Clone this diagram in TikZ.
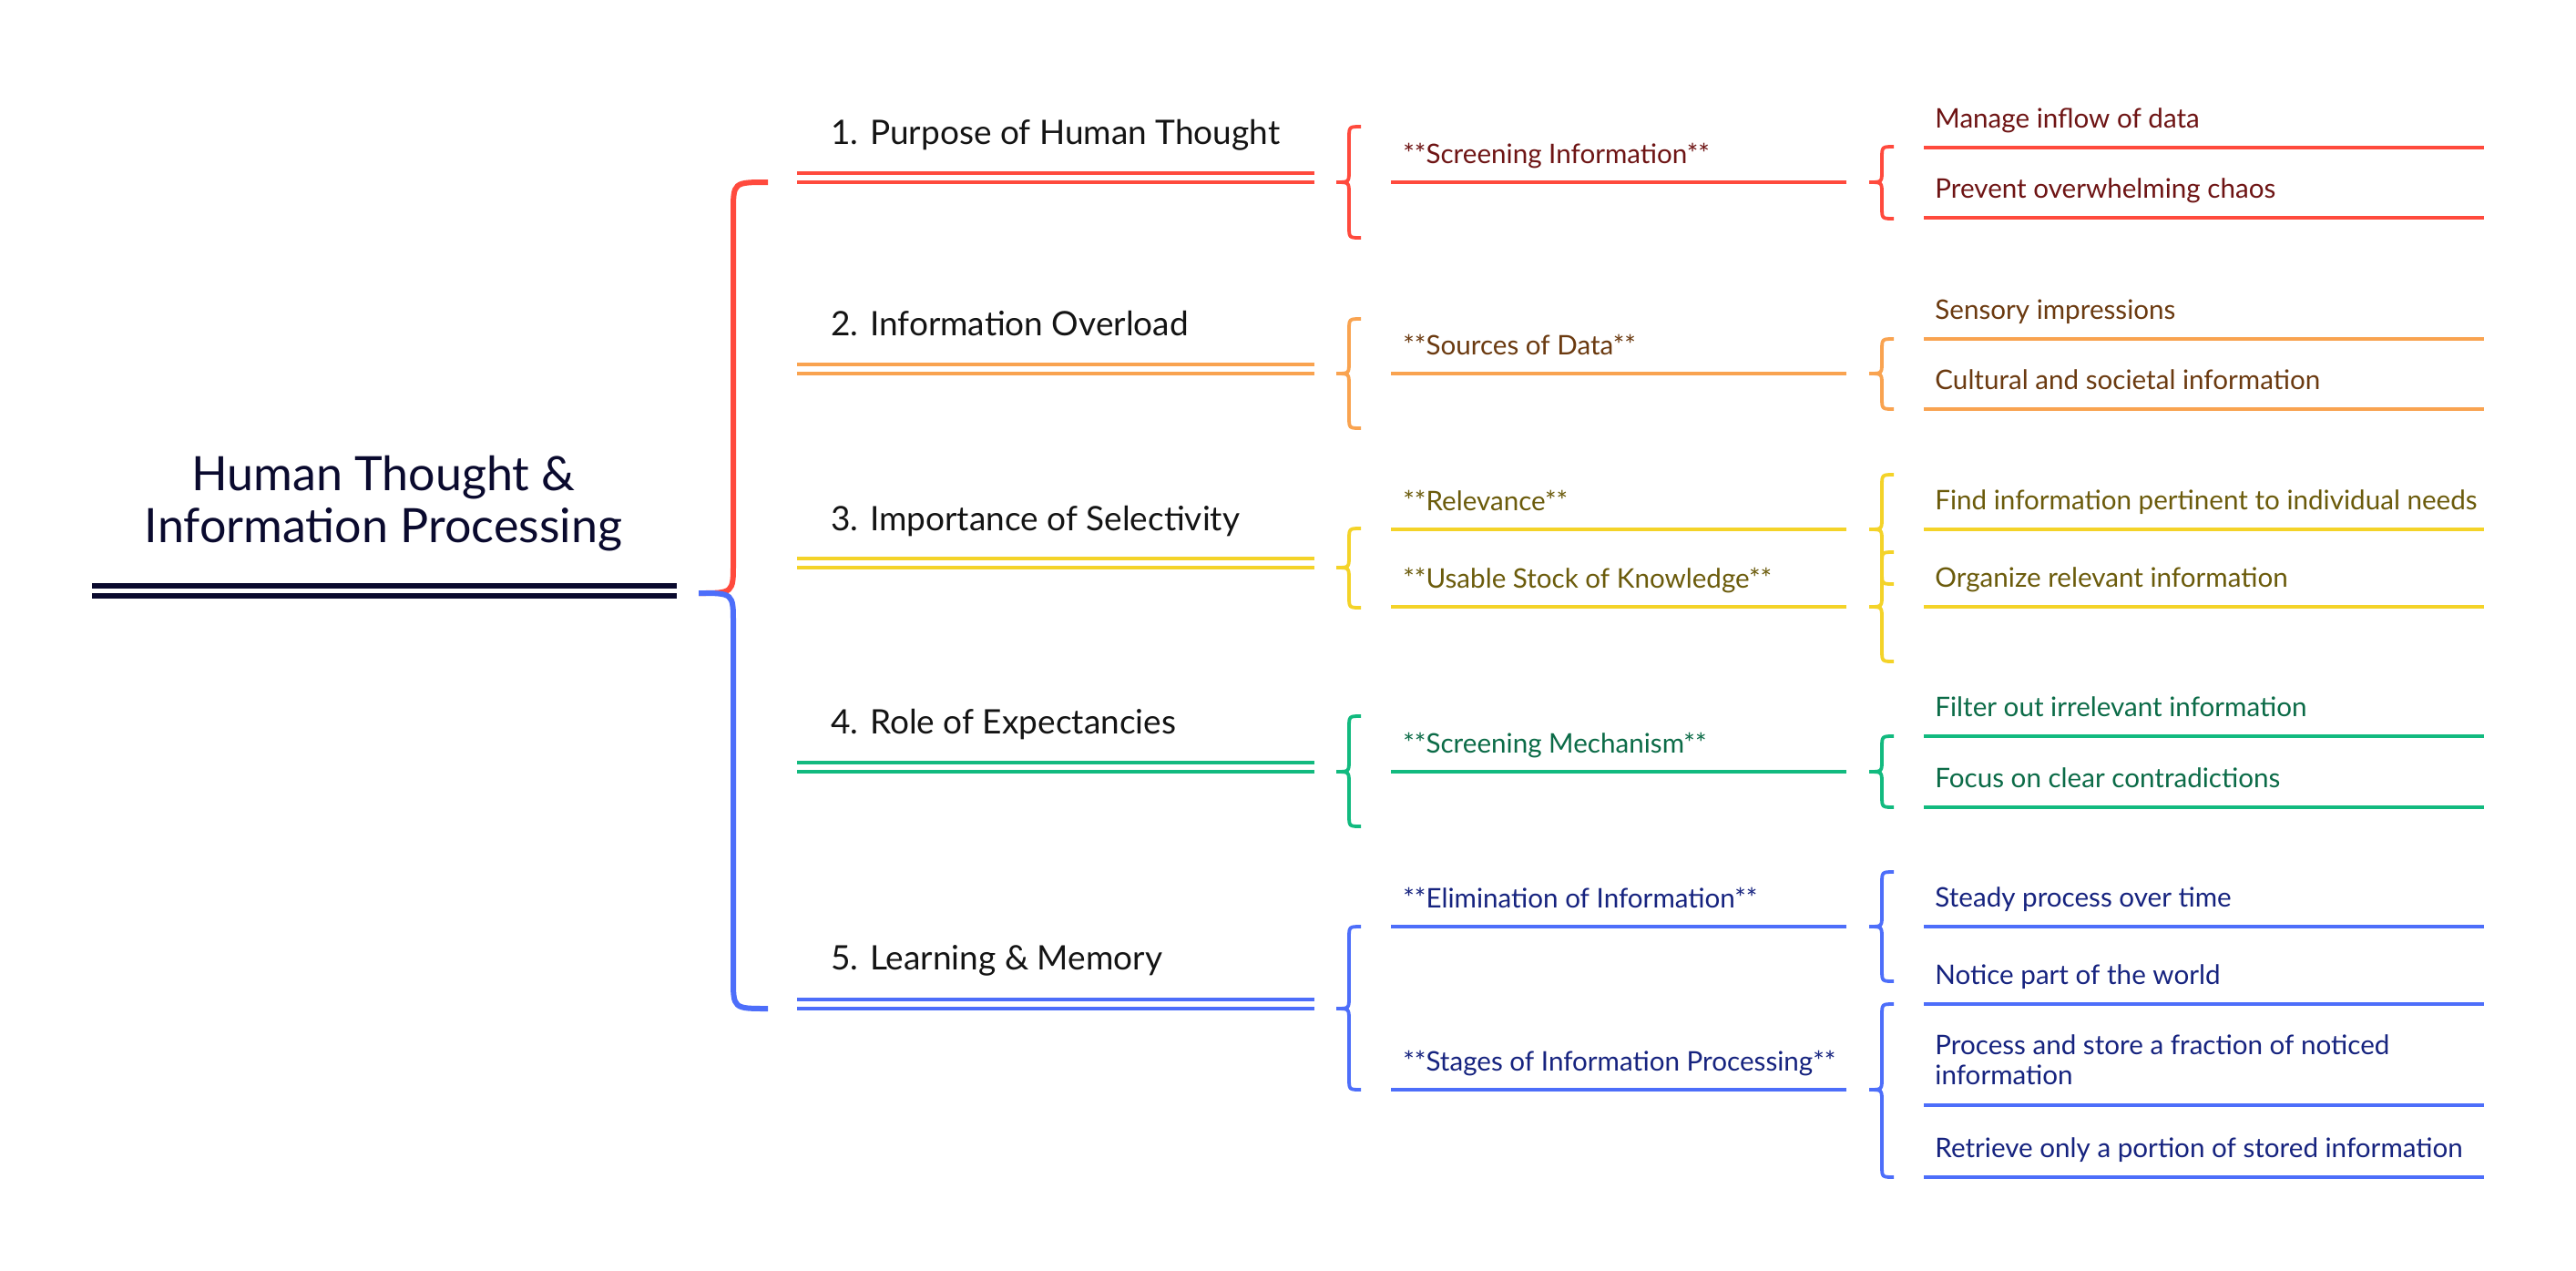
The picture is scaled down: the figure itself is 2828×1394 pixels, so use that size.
\documentclass[tikz,border=0pt]{standalone}
\usepackage{fontspec}
\setmainfont{Lato}
\definecolor{rootink}{HTML}{0A0A2E}
\definecolor{cRed}{HTML}{FF4A3D}
\definecolor{cOrange}{HTML}{F9A350}
\definecolor{cYellow}{HTML}{F4D328}
\definecolor{cGreen}{HTML}{12BA7F}
\definecolor{cBlue}{HTML}{4D6EFA}
\definecolor{tRed}{HTML}{6E1414}
\definecolor{tOrange}{HTML}{6B3A10}
\definecolor{tYellow}{HTML}{6B5B0B}
\definecolor{tGreen}{HTML}{0B6B47}
\definecolor{tBlue}{HTML}{16237F}
% small curly brace: colour, x of tip, top, tip, bottom
\newcommand{\curlybr}[5]{%
  \draw[brline,#1] (#2+27,#3) .. controls (#2+14,#3) .. (#2+14,#3+13) -- (#2+14,#4-13)
    .. controls (#2+14,#4) .. (#2,#4) .. controls (#2+14,#4) .. (#2+14,#4+13)
    -- (#2+14,#5-13) .. controls (#2+14,#5) .. (#2+27,#5);}
\begin{document}
\begin{tikzpicture}[x=0.5pt,y=-0.5pt,
  lvlA/.style={anchor=base west,inner sep=0pt,font=\fontsize{18.5}{22}\selectfont,text=black!92},
  lvlB/.style={anchor=base west,inner sep=0pt,font=\fontsize{14.8}{16.5}\selectfont},
  uline/.style={line width=1.9pt},
  brline/.style={line width=1.9pt}]
  \useasboundingbox[fill=white] (0,0) rectangle (2828,1394);
  % root
  \node[font=\fontsize{26}{28.5}\selectfont,text=rootink,align=center,anchor=base] (root) at (421,595) {Human Thought \&\\Information Processing};
  \draw[line width=3pt,rootink] (101,643) -- (743,643) (101,654) -- (743,654);
  \draw[line width=3pt,cRed] (767,651) .. controls (805,651) .. (805,618) -- (805,233) .. controls (805,200) .. (843,200);
  \draw[line width=3pt,cBlue] (767,651) .. controls (805,651) .. (805,684) -- (805,1074) .. controls (805,1107) .. (843,1107);
  % main branches
  \node[lvlA] (t1) at (912,158) {1. Purpose of Human Thought};
  \node[lvlA] (t2) at (912,368) {2. Information Overload};
  \node[lvlA] (t3) at (912,582) {3. Importance of Selectivity};
  \node[lvlA] (t4) at (912,805) {4. Role of Expectancies};
  \node[lvlA] (t5) at (912,1064) {5. Learning \& Memory};
  \draw[uline,cRed] (875,190) -- (1443,190) (875,200) -- (1443,200);
  \draw[uline,cOrange] (875,400) -- (1443,400) (875,410) -- (1443,410);
  \draw[uline,cYellow] (875,613) -- (1443,613) (875,623) -- (1443,623);
  \draw[uline,cGreen] (875,837) -- (1443,837) (875,847) -- (1443,847);
  \draw[uline,cBlue] (875,1097) -- (1443,1097) (875,1107) -- (1443,1107);
  \curlybr{cRed}{1467}{139}{200}{261}
  \curlybr{cOrange}{1467}{350}{410}{470}
  \curlybr{cYellow}{1467}{580}{623}{667}
  \curlybr{cGreen}{1467}{786}{847}{907}
  \curlybr{cBlue}{1467}{1017}{1107}{1196}
  % second level
  \node[lvlB,text=tRed] (s1) at (1540,179) {**Screening Information**};
  \node[lvlB,text=tOrange] (s2) at (1540,389) {**Sources of Data**};
  \node[lvlB,text=tYellow] (s3a) at (1540,560) {**Relevance**};
  \node[lvlB,text=tYellow] (s3b) at (1540,645) {**Usable Stock of Knowledge**};
  \node[lvlB,text=tGreen] (s4) at (1540,826) {**Screening Mechanism**};
  \node[lvlB,text=tBlue] (s5a) at (1540,996) {**Elimination of Information**};
  \node[lvlB,text=tBlue] (s5b) at (1540,1175) {**Stages of Information Processing**};
  \draw[uline,cRed] (1527,200) -- (2027,200);
  \draw[uline,cOrange] (1527,410) -- (2027,410);
  \draw[uline,cYellow] (1527,581) -- (2027,581) (1527,666) -- (2027,666);
  \draw[uline,cGreen] (1527,847) -- (2027,847);
  \draw[uline,cBlue] (1527,1017) -- (2027,1017) (1527,1196) -- (2027,1196);
  \curlybr{cRed}{2052}{161}{200}{240}
  \curlybr{cOrange}{2052}{372}{410}{449}
  \curlybr{cYellow}{2052}{521}{581}{641}
  \curlybr{cYellow}{2052}{606}{666}{726}
  \curlybr{cGreen}{2052}{808}{847}{886}
  \curlybr{cBlue}{2052}{957}{1017}{1077}
  \curlybr{cBlue}{2052}{1102}{1196}{1292}
  % leaves
  \node[lvlB,text=tRed] (l1a) at (2124,140) {Manage inflow of data};
  \node[lvlB,text=tRed] (l1b) at (2124,217) {Prevent overwhelming chaos};
  \node[lvlB,text=tOrange] (l2a) at (2124,350) {Sensory impressions};
  \node[lvlB,text=tOrange] (l2b) at (2124,427) {Cultural and societal information};
  \node[lvlB,text=tYellow] (l3a) at (2124,559) {Find information pertinent to individual needs};
  \node[lvlB,text=tYellow] (l3b) at (2124,644) {Organize relevant information};
  \node[lvlB,text=tGreen] (l4a) at (2124,786) {Filter out irrelevant information};
  \node[lvlB,text=tGreen] (l4b) at (2124,864) {Focus on clear contradictions};
  \node[lvlB,text=tBlue] (l5a) at (2124,995) {Steady process over time};
  \node[lvlB,text=tBlue] (l5b) at (2124,1080) {Notice part of the world};
  \node[lvlB,text=tBlue,align=left] (l5c) at (2124,1190) {Process and store a fraction of noticed\\information};
  \node[lvlB,text=tBlue] (l5d) at (2124,1270) {Retrieve only a portion of stored information};
  \draw[uline,cRed] (2112,162) -- (2727,162) (2112,239) -- (2727,239);
  \draw[uline,cOrange] (2112,372) -- (2727,372) (2112,449) -- (2727,449);
  \draw[uline,cYellow] (2112,581) -- (2727,581) (2112,666) -- (2727,666);
  \draw[uline,cGreen] (2112,808) -- (2727,808) (2112,886) -- (2727,886);
  \draw[uline,cBlue] (2112,1017) -- (2727,1017) (2112,1102) -- (2727,1102)
    (2112,1213) -- (2727,1213) (2112,1292) -- (2727,1292);
\end{tikzpicture}
\end{document}
